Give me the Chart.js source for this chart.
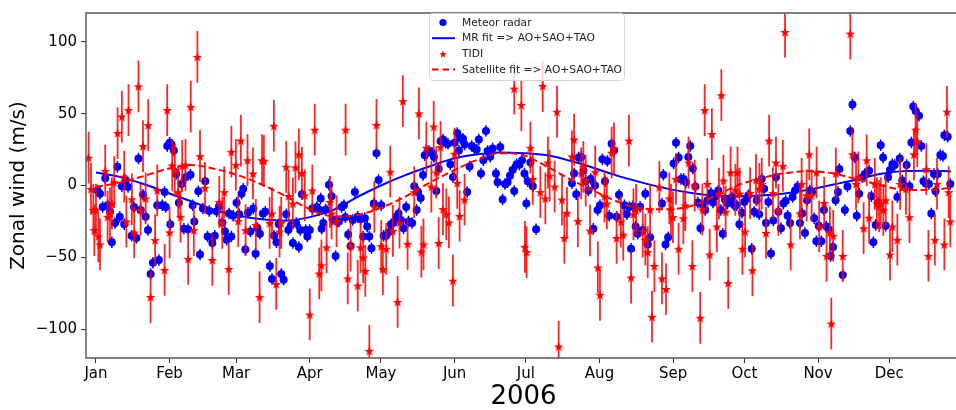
<!DOCTYPE html>
<html>
<head>
<meta charset="utf-8">
<script src="https://cdn.jsdelivr.net/npm/chart.js@4.4.1/dist/chart.umd.min.js"></script>
<style>
	html, body { margin: 0; padding: 0; background: #fff; overflow: hidden; }
	#wrap { width: 956px; height: 410px; overflow: hidden; }
	canvas { display: block; }
</style>
</head>
<body>
<div id="wrap"><canvas id="windChart" width="966" height="410"></canvas></div>
<script>
// x values are day of year 2006 (0 = 1 Jan)
const monthDays = [0, 31, 59, 90, 120, 151, 181, 212, 243, 273, 304, 334];
const monthLabels = ['Jan', 'Feb', 'Mar', 'Apr', 'May', 'Jun', 'Jul', 'Aug', 'Sep', 'Oct', 'Nov', 'Dec'];
const windTicks = [-100, -50, 0, 50, 100];

// Meteor radar daily means [day, m/s]
const meteorRadar = [
	[0.7, -3.4], [1.7, -5.7], [2.8, -15], [3.9, 5], [4.9, -13.7], [5.9, -18], [6.7, -39.5], [8, -26], [9, 13], [10, -21.7],
	[10.9, -0.5], [11.9, -27], [12.6, 3.4], [13.5, -1], [15, -35], [16, -15], [17, -36.5], [17.9, 18.7], [18.8, -17], [19.8, -6.4],
	[20.9, -21.7], [21.9, -31], [23, -61.6], [24, -53.7], [25.8, -13.7], [26.5, -51.8], [27.9, -13.7], [28.9, -4.6], [29.4, -15], [30, 27.4],
	[31, 29.7], [31.3, -27], [31.8, 28.5], [32.8, 24.4], [33.8, 8], [34.9, -12], [36, 1], [37, -30], [37.7, 5.7], [38.8, -30.4],
	[39.8, 7.5], [40.7, -13.7], [41.4, -25], [43.1, -4], [43.8, -48], [45, -16], [46, 3], [47, -35.4], [47.7, -17.8], [49, -40],
	[50, -35], [50.8, -18], [51.8, -14.4], [53.2, -25.8], [54.3, -32], [55, -37.7], [56, -19.4], [57, -35.4], [57.8, -21], [59.2, -12],
	[60.3, -20], [61.3, -5.7], [62, -2.3], [62.9, -44.5], [64, -19], [65, -32], [66.2, -16], [67.2, -47.5], [68, -29.7], [69, -33.6],
	[70.3, -19.4], [71.3, -18.3], [73.2, -56], [74.1, -65], [75, -35], [76, -39.5], [77, -27], [78, -61.6], [79, -65.5], [80.1, -20],
	[81, -31], [82, -28], [82.9, -40], [84.3, -26], [85.4, -42.7], [86, -31], [86.7, -6], [88.3, -31], [89, -35.4], [90, -31],
	[91.1, -16], [93, -15], [94, -17], [94.6, -9], [95, -30], [95.7, -26], [96.7, -16.7], [98.1, 0.5], [99.2, -7.5], [99.6, -23.5],
	[100.9, -49], [101.6, -25], [102.3, -25], [103.4, -15], [104.4, -13.7], [105, -22], [106.2, -34], [107.2, -42], [108.1, -24], [109, -4.6],
	[110.2, -21.7], [111.4, -23.5], [112.5, -35.4], [113.2, -22.8], [114.2, -28.5], [115.1, -35.4], [116, -43.6], [117, -12.5], [118.1, 22.4], [119, 3.9],
	[120.1, -13.7], [121.1, -35], [122.2, -35], [123.2, -32.6], [124.2, -27], [125.2, -26], [126.4, -21.7], [127.4, -19.4], [128.4, -24], [129.5, -29.7],
	[130.6, -15], [131.6, -25], [133.1, -26], [134, -0.5], [135, -17], [135.6, -4.6], [136.7, -8.7], [137.7, 7.3], [138.4, 21], [139.4, 22.8],
	[140.2, 24], [141.5, 22.8], [142.3, 19.9], [143.3, -3.9], [144.3, 11.4], [145.1, 30.8], [146.1, 32], [147.2, 29.7], [148.2, 29], [149.2, 14.8],
	[150.3, 6], [151, 29.7], [152.1, 36.5], [152.8, 24.4], [153.4, 33], [154.5, 32.6], [155.2, 28.5], [156.3, -4.6], [157.3, 13.2], [158.2, 27.4],
	[159.3, 26], [160.3, 25], [161.2, 32], [162.1, 8.4], [163.1, 17.6], [164.2, 38], [164.9, 24], [166, 20], [167, 25.8], [168.4, 8.4],
	[169.1, 2.3], [170.2, 26.7], [171.2, -9.8], [172.2, 1], [173.3, 2.3], [174.3, 6.8], [175.4, 10.7], [176.1, -3.9], [177.1, 14.8], [178.3, 14.4],
	[179.4, 17.6], [180.4, 8.4], [181.2, -12.5], [181.8, 3], [182.9, 16], [183.9, -0.5], [185.3, -30.4], [200.4, 1.6], [201.3, 8.4], [202.2, -6],
	[203.2, 19.4], [204.3, 19.9], [205.2, 10.3], [206.2, 3], [207.3, -3.4], [208.3, 4.6], [209.4, -30], [210.1, 0], [211.2, -17], [212.2, -13.7],
	[213.2, 18.3], [214.3, 3], [215.3, 17], [216.1, -21], [217.1, 29], [218.1, 24.4], [219.2, -21.7], [220.2, -6.4], [222.5, -13.7], [223.5, -20],
	[224.6, -15], [225.3, -44], [226, -14.4], [227.2, -28.5], [228.1, -33.6], [229.1, -14.8], [230.2, -31], [231.3, -5.7], [232.3, -41], [233.3, -36],
	[238.3, -12.5], [238.9, 7.5], [239.8, -41], [240.9, -36], [243.2, 15.3], [244.2, 29.7], [245.3, 19.4], [246.3, 4.6], [247.4, 4.6], [248.4, 2.3],
	[249.4, 19.9], [250.2, 27.4], [251.3, 11.9], [252.4, -0.7], [253.4, -11.9], [254.5, -29.7], [255.3, -13.2], [256.5, -17], [257.5, -10.3], [258.9, -5.3],
	[259.8, -11.9], [260.9, -7.5], [262, -3.4], [263.1, -17], [263.9, -33.6], [264.8, -9.8], [265.8, -12.5], [266.8, -10.3], [267.8, -8], [268.7, -13.7],
	[269.8, -13.7], [270.9, -27], [272, -19], [273, -11.4], [274, -9], [274.7, -6.8], [276.1, -44], [277.1, -18.3], [278.2, -10.3], [279.2, -20],
	[280.3, 4.6], [281.3, -2.3], [282.1, -26], [283.1, -11.4], [284.2, -47.3], [285.2, -24.4], [286.3, 5.7], [287.3, -18.3], [288.4, -29.7], [289.4, -12.5],
	[290.4, -10.7], [291.2, -21], [292.2, -26], [293.3, -8], [294.3, -3.4], [295.4, -0.7], [296.4, -26], [297.3, -19.4], [298.5, -33], [299.4, -10.3],
	[300.6, -3.4], [301.5, -4.6], [302.4, -22.8], [303.3, -38.8], [304.3, -28], [305.4, -38.8], [306.5, -17], [307.5, -28.5], [308.5, -30.4], [309.3, -49],
	[310.3, -42.7], [311.4, -10.3], [312.4, -4.6], [313, 11.4], [314.4, -62.3], [315.3, -17], [316.4, -0.7], [317.6, 38], [318.5, 56.4], [319.5, 19.4],
	[320.3, -21], [321.3, -5.7], [322.7, 5.7], [323.7, 8], [325.5, 10.3], [326.5, -7.5], [327.3, -39.5], [328.3, -27.4], [329.3, -12], [330.4, 28],
	[331.4, 19.4], [332.5, -28], [333.5, 5.7], [334.3, 10.7], [335.3, 14.8], [336.3, 14.2], [337.4, -8], [338.4, 18.7], [339.5, 3.4], [340.2, 0],
	[341.3, 14.2], [342.5, -0.5], [343.3, 30], [344.1, 55], [345.1, 51.8], [346.5, 48.6], [347.5, 27.4], [348.4, 3], [349.3, 1.6], [350.7, 1],
	[351.7, -19.4], [352.8, 8], [353.5, -4], [354.4, 8], [355.5, 21.2], [356.6, 20.5], [357.2, 35], [358.6, 34], [359.7, 1],
];

// TIDI satellite winds [day, m/s]
const tidi = [
	[-3.1, 19.4], [-2.1, -2.3], [-1.1, -17], [-0.7, -31], [0, -16.7], [1, -35.4], [1.7, -41], [3.9, 10.3], [4.9, -21.7], [5.9, -19.4],
	[6.7, -12.5], [7.7, 2.3], [9.1, 36.5], [10.9, 48], [11.9, 6.2], [12.8, -25], [13.7, 52.5], [15.1, -9.6], [16.1, -32.6], [17.9, 69],
	[18.8, -17], [19.8, 27.4], [20.9, -9], [22, 42], [23, -77.6], [24.9, -38], [25.8, -3.4], [28.9, -58.7], [30, 52.5], [31, -32.6],
	[32.1, 14], [33.2, 10.7], [34.6, -4.6], [35.6, -21.7], [36.3, 13.7], [37.7, 14.4], [38.8, -51], [39.9, 54.8], [41.2, -31], [42.7, 89.5],
	[43.8, 20.5], [45.9, -1.6], [49, -51.8], [51.9, -11.4], [53.2, -26], [54, -4.6], [55.9, -58], [57, 23.5], [58.9, 14.4], [59.9, -24.7],
	[61, 31.3], [63, -31], [63.8, 17.6], [66.1, 8.4], [67.3, -27.4], [68.9, -77.6], [69.9, 17.6], [70.7, 17], [73.1, -26], [74.1, -19.4],
	[74.9, 41.6], [75.9, -68.5], [77.3, -32], [78, -26], [80.1, 13], [81.1, -7.3], [82.9, -12.5], [84, 12.6], [85.4, 21.7], [86.7, 8.7],
	[87.9, -6.8], [90, -89.7], [91.1, -3.4], [92.1, 38.8], [94, -61.2], [94.9, -55.5], [97.1, -43], [98.5, -11.4], [99.2, -19.4], [101.3, -24.7],
	[105.1, 38.8], [106, -64.6], [107.2, -41.8], [110.2, -69.6], [111.4, -43], [112.5, -50], [113.4, -59.4], [115.1, -115], [117.2, -14.8], [118.1, 42.2],
	[120.1, -42.2], [120.8, -58.2], [122.2, -44], [123.9, 9.6], [125, -31.5], [127, -81], [127.8, -25.8], [129.2, 58.7], [131.2, -40.6], [134, -4.6],
	[136, 50.2], [137, -46], [137.9, -41], [139.1, 26.3], [141.2, -0.7], [142.2, 41], [143.3, 9], [144.3, -40], [145.1, 26.7], [146.1, -16.4],
	[147.5, -20], [148.6, -25.6], [150.3, -66.2], [151, 22.1], [152.1, 1.8], [153.1, -21.2], [155.2, -9.8], [176.1, 67.4], [179.1, 56], [180.6, -42.7],
	[181.3, -46.3], [182.9, 26.3], [183.9, 4.6], [187.1, -4.6], [188.1, 69.2], [189.2, -9], [190.3, 16], [191, 6.8], [193.1, -0.7], [194.1, 51.4],
	[194.8, -112], [196.2, -9.8], [197.2, -36.5], [198.3, -19], [200.4, 20.3], [201.3, 32], [202.9, -24.7], [204.3, 8.4], [205.2, 13], [206.2, 3.4],
	[208, -31.3], [210.2, 9.6], [211.3, -57], [212.2, -76], [214.1, -7.5], [215.1, -12.5], [217.1, 22.8], [218.1, 25.8], [219.2, -36.5], [221, -25.1],
	[222, -34.2], [224.4, 31.3], [225.3, -64], [226.3, -20], [227.4, -17], [230.2, -32], [231.3, -37.7], [232.3, -46.3], [233.3, -16.7], [234.1, -91.3],
	[235.1, -56], [237.2, -1.1], [238.3, -64.6], [240, -72], [241.4, -9], [242.1, -16.7], [242.9, -22], [244.2, 4.6], [245.3, -44], [247.3, -22.8],
	[248.1, -13.7], [249.5, 16], [251.1, -56], [252.1, 0], [254.4, -92], [255.3, -16.7], [256.3, 52.5], [257.4, 1.1], [258.4, -48], [259.3, 35.8],
	[261.4, -28.5], [262.3, -5.7], [263.3, 62.8], [264.2, 3.4], [265.1, -18.3], [266.2, -67.8], [267.2, 9.1], [269.2, -3], [270.1, 9.1], [271, -5.7],
	[272.2, -44], [273.3, -32], [275.4, -5.3], [276.4, -59], [277.9, 3.9], [279.3, -2.3], [280.3, 1.1], [282.1, -33], [283.4, 31.3], [285, -5.3],
	[286.3, 16], [287.3, -17], [289.2, 13.7], [290.1, 106.8], [292.5, -41], [296.4, -19.4], [297.1, 1.1], [299.2, -6.8], [300.3, 21.7], [301.3, -6.8],
	[303.4, 9.1], [304.5, -28.5], [306.6, -12.1], [307.6, -49], [309, -32.6], [309.6, -96], [310.4, -35], [311.5, 8.4], [314.4, -49], [317.6, 105.7],
	[318.5, 21.7], [320, 1.1], [321, 5.7], [323.2, -29.7], [324.5, 17.6], [325.5, -22.4], [327.9, 1.1], [328.8, -12.5], [329.7, -14.4], [330.4, -12.5],
	[331.5, -17], [332.5, -10.3], [334.3, -48], [335.3, -28.5], [337.4, -37.7], [338.6, 1.1], [341, -2.3], [342.5, -22], [344.4, 21.7], [345.1, 38.8],
	[345.8, 30.8], [349.6, 11.4], [350.5, -49], [353.2, -37.7], [354.1, 1.1], [357.2, -41], [358.3, 51.4], [359, -4.6], [359.7, -25],
];

// typical error bar half-widths (m/s)
const MR_ERR = 4;
const TIDI_ERR = 18;

// fitted curves, read every 10 days
const fitDays = [0, 10, 20, 30, 40, 50, 60, 70, 80, 90, 100, 110, 120, 130, 140, 150, 160, 170, 180, 190, 200, 210, 220, 230, 240, 250, 260, 270, 280, 290, 300, 310, 320, 330, 340, 350, 360];
const mrFit = [9, 6, 1, -5, -11, -17, -21, -23.5, -24.5, -22, -17, -8, 0, 7, 13, 18.5, 21.5, 23, 22.5, 21, 17, 12, 6.5, 2, -2, -5, -7, -7.5, -7, -5.5, -3, 0.5, 4, 8, 10, 10.3, 9.8];
const satFit = [-1, 2, 6.5, 11.5, 14.2, 11.5, 7, 0.5, -7.5, -16.5, -21.5, -20.5, -15.5, -8, 1.5, 10, 17.5, 22.5, 21, 13, 4, -4, -11.5, -16, -16.5, -14.5, -8, 0, 5, 8.5, 10, 8.5, 4.5, 0.5, -3, -3.2, -1.6];

const FONT = 'DejaVu Sans';
const BLUE = '#0000ff';
const RED = '#ff0000';

function makeStar(size, color) {
	const c = document.createElement('canvas');
	c.width = size;
	c.height = size;
	const g = c.getContext('2d');
	const r = size / 2;
	const ri = r * 0.42;
	g.beginPath();
	for (let i = 0; i < 10; i += 1) {
		const rad = i % 2 ? ri : r;
		const a = -Math.PI / 2 + (i * Math.PI) / 5;
		g.lineTo(r + rad * Math.cos(a), r + 0.6 + rad * Math.sin(a));
	}
	g.closePath();
	g.fillStyle = color;
	g.fill();
	return c;
}

const starImg = makeStar(10, RED);

function toPoints(pairs) {
	return pairs.map(([x, y]) => ({ x, y }));
}

function fitPoints(values) {
	return fitDays.map((d, i) => ({ x: d, y: values[i] }));
}

// vertical error bars, drawn right under each scatter dataset
const errorBars = {
	id: 'errorBars',
	beforeDatasetDraw(chart, args) {
		const ds = chart.data.datasets[args.index];
		if (!ds.errorBar) return;
		const { ctx, chartArea } = chart;
		const xs = chart.scales.x;
		const ys = chart.scales.y;
		ctx.save();
		ctx.beginPath();
		ctx.rect(chartArea.left, chartArea.top, chartArea.width, chartArea.height);
		ctx.clip();
		ctx.strokeStyle = ds.errorColor;
		ctx.lineWidth = ds.errorWidth;
		ctx.beginPath();
		for (const p of ds.data) {
			const x = xs.getPixelForValue(p.x);
			ctx.moveTo(x, ys.getPixelForValue(p.y - ds.errorBar));
			ctx.lineTo(x, ys.getPixelForValue(p.y + ds.errorBar));
		}
		ctx.stroke();
		ctx.restore();
	},
};

// left / top / bottom spines like matplotlib
const frame = {
	id: 'frame',
	afterDraw(chart) {
		const { ctx, chartArea: a } = chart;
		ctx.save();
		ctx.strokeStyle = '#555';
		ctx.lineWidth = 1.4;
		ctx.beginPath();
		ctx.moveTo(a.right, a.top);
		ctx.lineTo(a.left, a.top);
		ctx.lineTo(a.left, a.bottom);
		ctx.lineTo(a.right, a.bottom);
		ctx.stroke();
		ctx.restore();
	},
};

const legendItems = [
	{ text: 'Meteor radar', kind: 'dot' },
	{ text: 'MR fit => AO+SAO+TAO', kind: 'line' },
	{ text: 'TIDI', kind: 'star' },
	{ text: 'Satellite fit => AO+SAO+TAO', kind: 'dash' },
];

const boxLegend = {
	id: 'boxLegend',
	afterDraw(chart) {
		const { ctx } = chart;
		const bx = 429;
		const by = 13;
		const bw = 195;
		const bh = 67;
		ctx.save();
		ctx.beginPath();
		ctx.roundRect(bx + 0.5, by + 0.5, bw, bh, 3);
		ctx.fillStyle = 'rgba(255,255,255,0.8)';
		ctx.fill();
		ctx.strokeStyle = '#d6d6d6';
		ctx.lineWidth = 1;
		ctx.stroke();
		ctx.font = `10.7px "${FONT}"`;
		ctx.textBaseline = 'middle';
		legendItems.forEach((item, i) => {
			const cy = by + 9.5 + i * 15.7;
			if (item.kind === 'dot') {
				ctx.fillStyle = BLUE;
				ctx.beginPath();
				ctx.arc(443, cy, 3.6, 0, Math.PI * 2);
				ctx.fill();
			} else if (item.kind === 'star') {
				ctx.drawImage(makeStar(8, RED), 439, cy - 4);
			} else {
				ctx.strokeStyle = item.kind === 'line' ? BLUE : RED;
				ctx.lineWidth = 2;
				ctx.setLineDash(item.kind === 'dash' ? [6.5, 4] : []);
				ctx.beginPath();
				ctx.moveTo(432, cy);
				ctx.lineTo(455, cy);
				ctx.stroke();
				ctx.setLineDash([]);
			}
			ctx.fillStyle = '#222';
			ctx.fillText(item.text, 462, cy + 0.5);
		});
		ctx.restore();
	},
};

const tickFont = { family: FONT, size: 15 };

new Chart(document.getElementById('windChart'), {
	type: 'scatter',
	data: {
		datasets: [
			{
				label: 'Meteor radar',
				data: toPoints(meteorRadar),
				backgroundColor: BLUE,
				borderColor: BLUE,
				borderWidth: 0,
				pointRadius: 4,
				errorBar: MR_ERR,
				errorColor: BLUE,
				errorWidth: 1.5,
				order: 4,
			},
			{
				label: 'MR fit => AO+SAO+TAO',
				data: fitPoints(mrFit),
				showLine: true,
				borderColor: BLUE,
				borderWidth: 2,
				pointRadius: 0,
				cubicInterpolationMode: 'monotone',
				order: 3,
			},
			{
				label: 'TIDI',
				data: toPoints(tidi),
				pointStyle: starImg,
				errorBar: TIDI_ERR,
				errorColor: 'rgba(255,0,0,0.85)',
				errorWidth: 1.8,
				order: 2,
			},
			{
				label: 'Satellite fit => AO+SAO+TAO',
				data: fitPoints(satFit),
				showLine: true,
				borderColor: RED,
				borderWidth: 2,
				borderDash: [7, 3.5],
				pointRadius: 0,
				cubicInterpolationMode: 'monotone',
				order: 1,
			},
		],
	},
	options: {
		responsive: false,
		animation: false,
		layout: { padding: { top: 8, left: 0, right: 0, bottom: 0 } },
		plugins: {
			legend: { display: false },
			tooltip: { enabled: false },
		},
		scales: {
			x: {
				type: 'linear',
				min: -4.2,
				max: 364.2,
				afterBuildTicks: (scale) => {
					scale.ticks = monthDays.map((v) => ({ value: v }));
				},
				afterFit: (scale) => {
					scale.height = 52;
				},
				ticks: {
					autoSkip: false,
					maxRotation: 0,
					padding: 2,
					color: '#000',
					font: tickFont,
					callback: (value) => monthLabels[monthDays.indexOf(value)] ?? '',
				},
				grid: { drawOnChartArea: false, drawTicks: true, tickLength: 5, color: '#333' },
				border: { display: false },
				title: {
					display: true,
					text: '2006',
					color: '#000',
					font: { family: FONT, size: 26, lineHeight: 1 },
					padding: { top: 0, bottom: 0 },
				},
			},
			y: {
				min: -120,
				max: 120,
				afterBuildTicks: (scale) => {
					scale.ticks = windTicks.map((v) => ({ value: v }));
				},
				afterFit: (scale) => {
					scale.width = 86;
				},
				ticks: {
					padding: 4,
					color: '#000',
					font: tickFont,
					callback: (value) => (value < 0 ? '\u2212' + Math.abs(value) : String(value)),
				},
				grid: { drawOnChartArea: false, drawTicks: true, tickLength: 5, color: '#333' },
				border: { display: false },
				title: {
					display: true,
					text: 'Zonal wind (m/s)',
					color: '#000',
					font: { family: FONT, size: 20, lineHeight: 1.2 },
					padding: { top: 7, bottom: 0 },
				},
			},
		},
	},
	plugins: [errorBars, frame, boxLegend],
});
</script>
</body>
</html>
